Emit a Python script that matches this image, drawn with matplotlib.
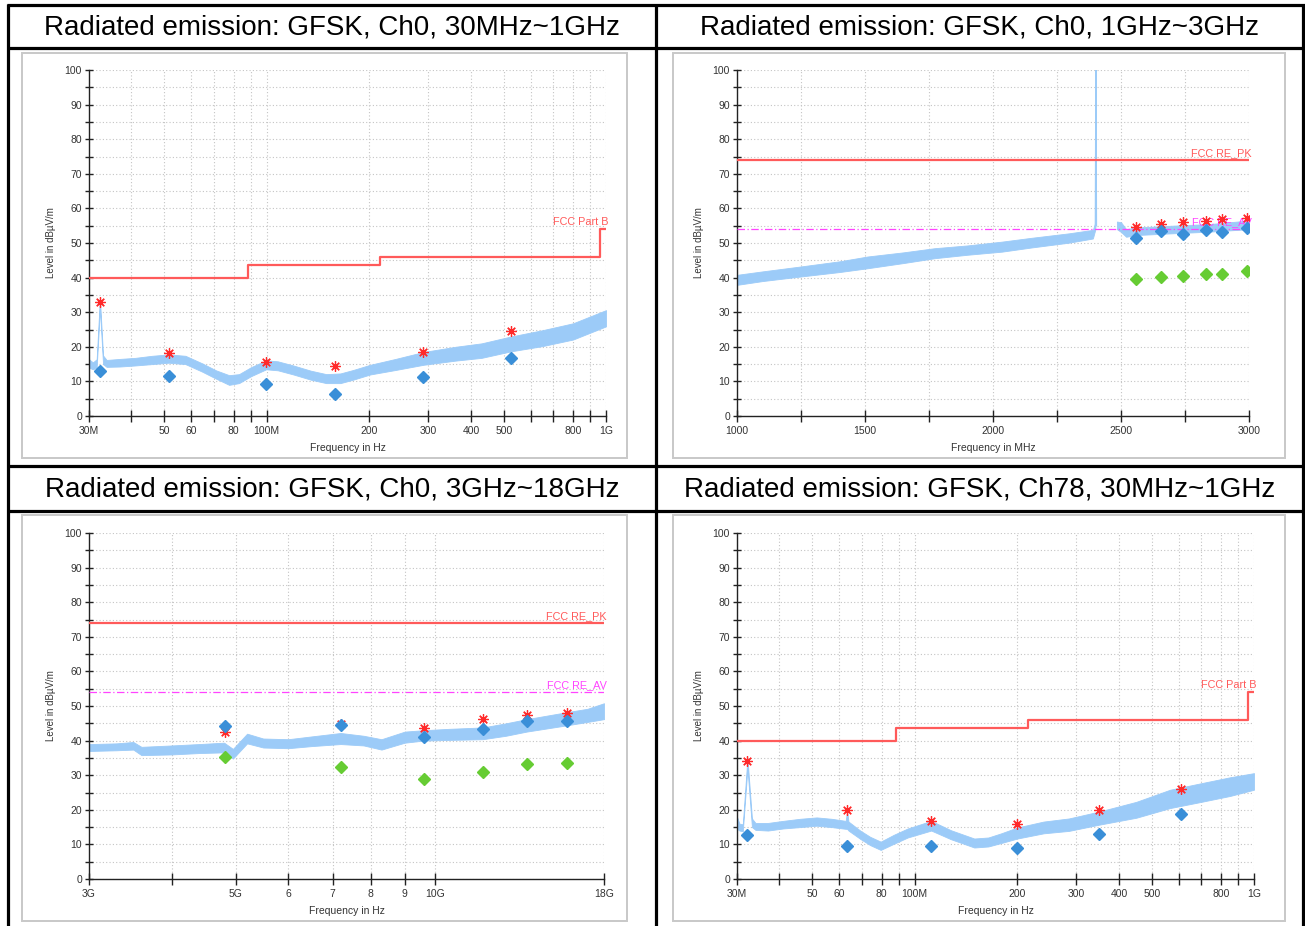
import numpy as np
import matplotlib
matplotlib.use("Agg")
import matplotlib.pyplot as plt
from matplotlib.patches import Rectangle
from matplotlib.lines import Line2D
from matplotlib.ticker import NullLocator

plt.rcParams['font.family'] = ['Liberation Sans', 'DejaVu Sans']

W, H = 1305, 926

titles = ["Radiated emission: GFSK, Ch0, 30MHz~1GHz",
          "Radiated emission: GFSK, Ch0, 1GHz~3GHz",
          "Radiated emission: GFSK, Ch0, 3GHz~18GHz",
          "Radiated emission: GFSK, Ch78, 30MHz~1GHz"]

# ---- limit lines ----
partb_edges = [30, 88, 216, 960, 1000]          # MHz
partb_level = [40, 43.5, 46, 54, 54]            # dBuV/m
pk_limit = 74
av_limit = 54

# ---- panel 1: Ch0 30M-1G (MHz) ----
p1_freq = [30, 30.8, 31.6, 32.3, 33.0, 33.8, 37, 41, 46, 51.5, 57.7, 64.7, 71, 77.6, 83, 90, 99.8,
           108, 120, 135, 150, 165, 180, 202, 240, 290, 360, 430, 526, 650, 800, 1000]
p1_lo = [14.0, 13.5, 14.0, 31.0, 15.0, 14.2, 14.3, 14.6, 15.0, 15.4, 15.0, 12.8, 10.8, 9.0, 9.5, 11.5, 13.5,
         13.2, 12.0, 10.5, 9.5, 9.5, 10.5, 12.0, 13.3, 14.8, 16.0, 16.8, 18.7, 20.2, 22.1, 25.9]
p1_hi = [16.4, 15.5, 16.4, 34.0, 17.5, 16.2, 16.5, 16.8, 17.4, 17.8, 17.4, 15.2, 13.2, 11.8, 12.1, 14.1, 16.1,
         15.8, 14.6, 13.1, 12.1, 12.3, 13.3, 14.8, 16.5, 18.5, 20.0, 21.0, 23.0, 24.8, 26.8, 30.6]
p1_mk_freq = [32.3, 51.5, 99.8, 159, 290, 526]
p1_peak = [33.0, 18.1, 15.5, 14.5, 18.4, 24.7]
p1_qp = [13.1, 11.6, 9.2, 6.3, 11.4, 16.9]

# ---- panel 2: Ch0 1G-3G (MHz) ----
p2_freq_a = [1000, 1100, 1247, 1400, 1510, 1650, 1772, 1900, 2035, 2150, 2297, 2390, 2400]
p2_lo_a = [37.9, 39.0, 40.3, 41.6, 42.7, 44.2, 45.6, 46.6, 47.5, 48.7, 50.1, 51.3, 54.0]
p2_hi_a = [40.8, 41.8, 43.2, 44.7, 46.1, 47.3, 48.5, 49.3, 50.4, 51.5, 52.8, 53.8, 56.0]
p2_spike_freq = [2400, 2402, 2404]
p2_spike_lvl = [55, 100, 55]
p2_freq_b = [2484, 2500, 2520, 2560, 2700, 2850, 3000]
p2_lo_b = [54.0, 53.2, 51.8, 52.3, 52.8, 53.3, 54.0]
p2_hi_b = [56.2, 56.0, 54.0, 54.5, 55.0, 55.5, 56.5]
p2_mk_freq = [2560, 2655, 2741, 2832, 2896, 2993]
p2_peak = [54.7, 55.5, 56.0, 56.4, 56.8, 57.3]
p2_qp = [51.5, 53.5, 52.5, 53.7, 53.2, 54.2]
p2_av = [39.5, 40.1, 40.5, 41.1, 41.1, 41.8]

# ---- panel 3: Ch0 3G-18G (GHz) ----
p3_freq = [3.0, 3.3, 3.5, 3.6, 4.0, 4.4, 4.8, 4.95, 5.2, 5.5, 6.0, 6.5, 7.2, 7.8, 8.3, 9.0, 9.6,
           10.5, 11.8, 12.8, 13.75, 15.8, 17.0, 18.0]
p3_lo = [37.0, 37.2, 37.4, 35.8, 36.0, 36.4, 36.6, 34.8, 39.2, 38.0, 37.8, 38.4, 39.0, 38.6, 37.4, 39.4, 40.0,
         40.2, 40.4, 41.4, 42.6, 44.4, 45.4, 46.2]
p3_hi = [39.0, 39.2, 39.6, 38.2, 38.6, 39.0, 39.4, 37.6, 42.0, 40.6, 40.4, 41.2, 42.2, 41.4, 40.4, 42.6, 43.0,
         43.4, 43.8, 45.0, 46.2, 48.2, 49.2, 50.8]
p3_mk_freq = [4.81, 7.21, 9.61, 11.8, 13.75, 15.8]
p3_peak = [42.4, 44.8, 43.7, 46.2, 47.4, 48.1]
p3_qp = [44.2, 44.5, 40.9, 43.4, 45.7, 45.7]
p3_av = [35.2, 32.5, 28.9, 30.9, 33.1, 33.4]

# ---- panel 4: Ch78 30M-1G (MHz) ----
p4_freq = [30, 30.5, 31.2, 32.2, 33.2, 34, 37, 41, 46, 51.5, 57, 62.7, 63.3, 63.9, 69.2, 74, 79.5, 87, 95.5,
           112, 128, 150, 165, 180, 201, 240, 285, 350, 450, 566, 700, 850, 1000]
p4_lo = [14.5, 14.0, 13.8, 32.0, 15.0, 14.2, 14.0, 14.6, 15.0, 15.4, 15.0, 14.5, 14.5, 14.0, 11.6, 9.8, 8.4,
         10.2, 12.0, 14.0, 11.5, 9.1, 9.4, 10.4, 11.7, 13.2, 13.9, 15.7, 17.7, 20.5, 22.3, 24.0, 25.8]
p4_hi = [18.0, 16.0, 15.8, 35.0, 17.5, 16.2, 16.2, 16.8, 17.4, 17.8, 17.4, 16.8, 19.6, 16.6, 14.0, 12.2, 10.8,
         12.8, 14.6, 16.8, 14.1, 11.7, 12.0, 13.2, 14.9, 16.6, 17.5, 19.5, 22.3, 25.8, 27.7, 29.4, 30.6]
p4_mk_freq = [32.2, 63.3, 112, 201, 350, 608]
p4_peak = [34.2, 20.0, 16.7, 15.9, 20.0, 26.0]
p4_qp = [12.8, 9.6, 9.6, 9.0, 13.1, 18.75]

# tick sets
lf_ticks = [30, 40, 50, 60, 70, 80, 90, 100, 200, 300, 400, 500, 600, 700, 800, 900, 1000]
lf_labels = ['30M', '', '50', '60', '', '80', '', '100M', '200', '300', '400', '500', '', '', '800', '', '1G']
mid_ticks = list(range(1000, 3001, 250))
mid_labels = ['1000', '', '1500', '', '2000', '', '2500', '', '3000']
hf_ticks = [3, 4, 5, 6, 7, 8, 9, 10, 18]
hf_labels = ['3G', '', '5G', '6', '7', '8', '9', '10G', '18G']

TRACE = '#9ccbf8'
PEAK = '#ff2a2a'
QP = '#3a8fd8'
AVG = '#66cc33'
LIM = '#ff5a5a'
AVLIM = '#ff44ff'

fig = plt.figure(figsize=(W / 100, H / 100), dpi=100)


def fig_line(x0, y0, x1, y1):
    fig.add_artist(Line2D([x0 / W, x1 / W], [1 - y0 / H, 1 - y1 / H], transform=fig.transFigure,
                          color='black', lw=2.3, solid_capstyle='butt'))


def frame(l, t, r, b):
    fig.add_artist(Rectangle((l / W, 1 - b / H), (r - l) / W, (b - t) / H, transform=fig.transFigure,
                             fill=False, edgecolor='#c8c8c8', lw=1.4))


def make_axes(l, t, r, b, xscale, xlim, xticks, xlabels, xlabel):
    ax = fig.add_axes([l / W, 1 - b / H, (r - l) / W, (b - t) / H])
    ax.set_xscale(xscale)
    ax.set_xlim(*xlim)
    ax.set_ylim(0, 100)
    ax.set_xticks(xticks)
    ax.set_xticklabels(xlabels)
    ax.xaxis.set_minor_locator(NullLocator())
    ax.set_yticks(np.arange(0, 101, 10))
    ax.set_yticks(np.arange(5, 100, 10), minor=True)
    ax.set_axisbelow(True)
    ax.grid(True, which='both', axis='y', color='#c4c4c4', ls=(0, (1, 2)), lw=0.8)
    ax.grid(True, which='major', axis='x', color='#c4c4c4', ls=(0, (1, 2)), lw=0.8)
    for s in ['top', 'right']:
        ax.spines[s].set_visible(False)
    for s in ['left', 'bottom']:
        ax.spines[s].set_linewidth(1.0)
        ax.spines[s].set_color('#222222')
    ax.tick_params(which='both', direction='inout', length=6, width=1, color='#222222',
                   labelsize=7.5, labelcolor='#333333')
    ax.tick_params(axis='x', length=8, pad=3)
    ax.tick_params(axis='y', pad=2)
    ax.set_ylabel('Level in dBµV/m', fontsize=7, color='#333333')
    ax.set_xlabel(xlabel, fontsize=7.5, color='#333333')
    ax.yaxis.set_label_coords(-33.0 / (r - l), 0.5)
    ax.xaxis.set_label_coords(0.5, -27.0 / (b - t))
    return ax


def limit_text(ax, level, label, color):
    ax.annotate(label, xy=(1.0, level), xycoords=('axes fraction', 'data'), xytext=(2, 1.5),
                textcoords='offset points', ha='right', va='bottom', fontsize=7.8, color=color)


def markers(ax, f, peak, qp, av=None):
    ax.plot(f, peak, ls='none', marker=(8, 2, 0), ms=7.5, mew=0.9, color=PEAK, zorder=4)
    ax.plot(f, qp, ls='none', marker='D', ms=5.8, color=QP, mec=QP, zorder=5)
    if av is not None:
        ax.plot(f, av, ls='none', marker='D', ms=5.8, color=AVG, mec=AVG, zorder=5)


# table grid
for x in [8, 656, 1303]:
    fig_line(x, 4, x, 926)
for y in [5, 48, 466, 511]:
    fig_line(7, y, 1305, y)

fig.text(332 / W, 1 - 28 / H, titles[0], ha='center', va='center', fontsize=20)
fig.text(980 / W, 1 - 28 / H, titles[1], ha='center', va='center', fontsize=20)
fig.text(332 / W, 1 - 490 / H, titles[2], ha='center', va='center', fontsize=20)
fig.text(980 / W, 1 - 490 / H, titles[3], ha='center', va='center', fontsize=20)

frame(22, 53, 627, 458)
frame(673, 53, 1285, 458)
frame(22, 515, 627, 921)
frame(673, 515, 1285, 921)

# panel 1
ax1 = make_axes(89, 70, 606, 416, 'log', (30, 1000), lf_ticks, lf_labels, 'Frequency in Hz')
ax1.fill_between(p1_freq, p1_lo, p1_hi, color=TRACE, lw=0.6, zorder=2)
ax1.step(partb_edges, partb_level, where='post', color=LIM, lw=1.6, zorder=3)
limit_text(ax1, partb_level[-1], 'FCC Part B', LIM)
markers(ax1, p1_mk_freq, p1_peak, p1_qp)

# panel 2
ax2 = make_axes(737, 70, 1249, 416, 'linear', (1000, 3000), mid_ticks, mid_labels, 'Frequency in MHz')
ax2.fill_between(p2_freq_a, p2_lo_a, p2_hi_a, color=TRACE, lw=0.6, zorder=2)
ax2.fill_between(p2_freq_b, p2_lo_b, p2_hi_b, color=TRACE, lw=0.6, zorder=2)
ax2.plot(p2_spike_freq, p2_spike_lvl, color=TRACE, lw=1.0, zorder=2)
ax2.plot([1000, 3000], [pk_limit, pk_limit], color=LIM, lw=1.6, zorder=3)
ax2.plot([1000, 3000], [av_limit, av_limit], color=AVLIM, lw=0.9, ls=(0, (6, 2, 1, 2)), zorder=3)
limit_text(ax2, pk_limit, 'FCC RE_PK', LIM)
limit_text(ax2, av_limit, 'FCC RE_AV', AVLIM)
markers(ax2, p2_mk_freq, p2_peak, p2_qp, p2_av)

# panel 3
ax3 = make_axes(89, 533, 604, 879, 'log', (3, 18), hf_ticks, hf_labels, 'Frequency in Hz')
ax3.fill_between(p3_freq, p3_lo, p3_hi, color=TRACE, lw=0.6, zorder=2)
ax3.plot([3, 18], [pk_limit, pk_limit], color=LIM, lw=1.6, zorder=3)
ax3.plot([3, 18], [av_limit, av_limit], color=AVLIM, lw=0.9, ls=(0, (6, 2, 1, 2)), zorder=3)
limit_text(ax3, pk_limit, 'FCC RE_PK', LIM)
limit_text(ax3, av_limit, 'FCC RE_AV', AVLIM)
markers(ax3, p3_mk_freq, p3_peak, p3_qp, p3_av)

# panel 4
ax4 = make_axes(737, 533, 1254, 879, 'log', (30, 1000), lf_ticks, lf_labels, 'Frequency in Hz')
ax4.fill_between(p4_freq, p4_lo, p4_hi, color=TRACE, lw=0.6, zorder=2)
ax4.step(partb_edges, partb_level, where='post', color=LIM, lw=1.6, zorder=3)
limit_text(ax4, partb_level[-1], 'FCC Part B', LIM)
markers(ax4, p4_mk_freq, p4_peak, p4_qp)

fig.savefig('out.png', dpi=100)
